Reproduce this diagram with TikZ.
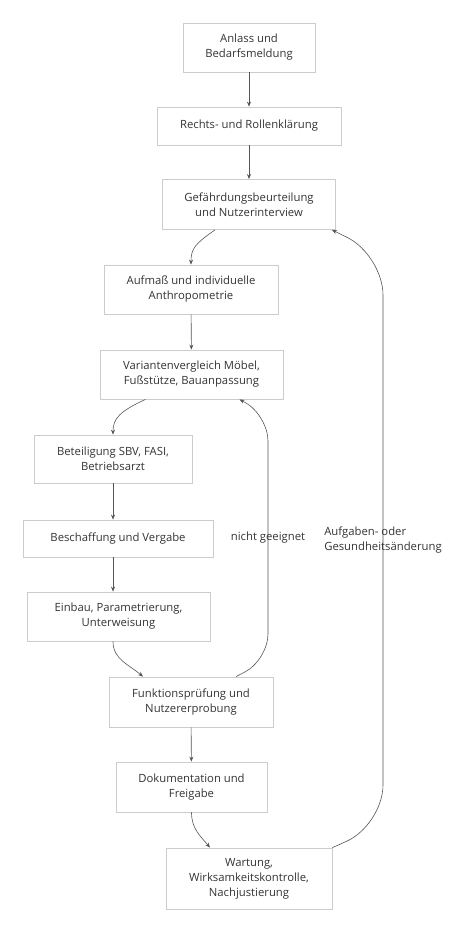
\documentclass[tikz,border=0pt]{standalone}
\usepackage{fontspec}
\setmainfont{Open Sans}
\usetikzlibrary{arrows.meta}
\definecolor{boxline}{HTML}{CCCCCC}
\definecolor{edge}{HTML}{555555}
\definecolor{txt}{HTML}{333333}
\begin{document}
\begin{tikzpicture}[x=1pt,y=-1pt,
    box/.style={draw=boxline,line width=0.8pt,align=center,text=txt,
      font=\fontsize{11.3}{15}\selectfont,inner sep=0pt},
    lbl/.style={text=txt,font=\fontsize{11.3}{15}\selectfont,inner sep=0pt},
    flow/.style={->,draw=edge,line width=0.6pt},
    >={Stealth[length=5pt,width=4pt]}]
      \useasboundingbox (0,0) rectangle (467,940);
      \node[box,minimum width=132pt,minimum height=49pt] (anl) at (249,47.5) {Anlass und\\Bedarfsmeldung};
      \node[box,minimum width=184pt,minimum height=38pt] (rec) at (249,126) {Rechts- und Rollenklärung};
      \node[box,minimum width=173pt,minimum height=50pt] (gef) at (249,204.5) {Gefährdungsbeurteilung\\und Nutzerinterview};
      \node[box,minimum width=174pt,minimum height=49pt] (auf) at (191,289.5) {Aufmaß und individuelle\\Anthropometrie};
      \node[box,minimum width=183pt,minimum height=49pt] (var) at (191.5,374.5) {Variantenvergleich Möbel,\\Fußstütze, Bauanpassung};
      \node[box,minimum width=158pt,minimum height=48pt] (bet) at (113,459) {Beteiligung SBV, FASI,\\Betriebsarzt};
      \node[box,minimum width=190pt,minimum height=37pt] (bes) at (118,538.5) {Beschaffung und Vergabe};
      \node[box,minimum width=183pt,minimum height=49pt] (ein) at (118.5,616.5) {Einbau, Parametrierung,\\Unterweisung};
      \node[box,minimum width=164pt,minimum height=50pt] (fun) at (191,702) {Funktionsprüfung und\\Nutzererprobung};
      \node[box,minimum width=151pt,minimum height=50pt] (dok) at (191.5,787) {Dokumentation und\\Freigabe};
      \node[box,minimum width=166pt,minimum height=61pt] (war) at (249,878.5) {Wartung,\\Wirksamkeitskontrolle,\\Nachjustierung};
      \draw [flow] (anl) -- (rec);
      \draw [flow] (rec) -- (gef);
      \draw [flow] ([xshift=-34pt]gef.south) .. controls +(-20,14) and +(0,-16) .. (auf.north);
      \draw [flow] (auf) -- (var);
      \draw [flow] ([xshift=-46pt]var.south) .. controls +(-26,12) and +(0,-16) .. (bet.north);
      \draw [flow] (bet.south) -- (bet.south |- bes.north);
      \draw [flow] (bet.south |- bes.south) -- (bet.south |- ein.north);
      \draw [flow] ([xshift=-5.5pt]ein.south) .. controls +(0,18) and +(-14,-12) .. ([xshift=-48pt]fun.north);
      \draw [flow] (fun) -- (dok);
      \draw [flow] (dok.south) .. controls +(0,16) and +(-10,-12) .. ([xshift=-39pt]war.north);
      \draw [flow,rounded corners=26pt] ([xshift=45pt]fun.north) -- (268,660)
        -- node[lbl] {nicht geeignet} (268,415) -- ([xshift=48pt]var.south);
      \draw [flow,rounded corners=40pt] (war.north east) -- (383,825)
        -- node[lbl,align=left] {Aufgaben- oder\\Gesundheitsänderung} (383,255) -- ([xshift=-4pt]gef.south east);
    \end{tikzpicture}
\end{document}
